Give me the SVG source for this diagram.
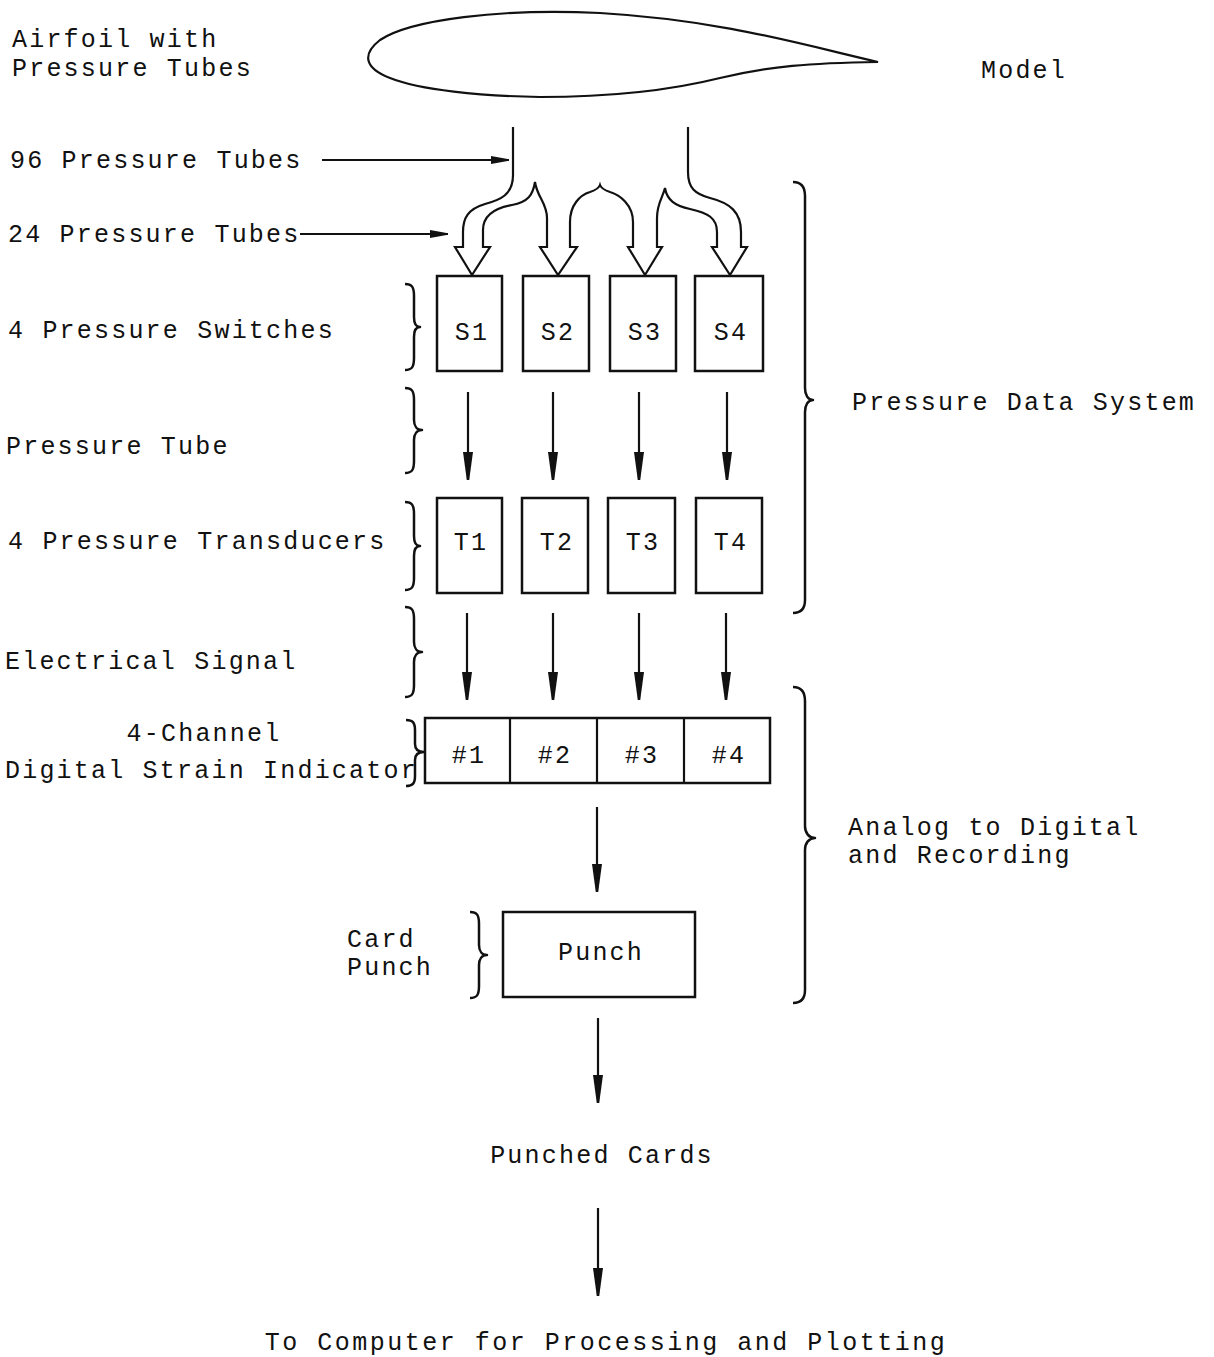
<svg xmlns="http://www.w3.org/2000/svg" width="1214" height="1357" viewBox="0 0 1214 1357">
<style>
  text { font-family: "Liberation Mono", "DejaVu Sans Mono", monospace; font-size: 25px; letter-spacing: 2.2px; fill: #111; }
  .c { text-anchor: middle; }
  .box { fill: #fff; stroke: #111; stroke-width: 2.5; }
  .ln { fill: none; stroke: #111; stroke-width: 2.2; }
  .br { fill: none; stroke: #111; stroke-width: 2.5; stroke-linejoin: round; }
</style>
<defs>
  <marker id="av" markerUnits="userSpaceOnUse" viewBox="0 0 28 10" refX="28" refY="5" markerWidth="28" markerHeight="10" orient="auto">
    <path d="M0,0 L28,3.8 L28,6.2 L0,10 Z" fill="#111"/>
  </marker>
  <marker id="ah" markerUnits="userSpaceOnUse" viewBox="0 0 18 8" refX="18" refY="4" markerWidth="18" markerHeight="8" orient="auto">
    <path d="M0,0 L18,3.3 L18,4.7 L0,8 Z" fill="#111"/>
  </marker>
</defs>
<rect width="1214" height="1357" fill="#fff"/>

<g id="model">
  <path class="ln" d="M878,62 C800,44 720,20 600,13 C500,8 410,20 380,40 C362,54 364,68 390,78 C420,90 480,96 540,97 C620,97 680,88 720,78 C770,66 810,63 878,62 Z"/>
  <text x="12" y="47">Airfoil with</text>
  <text x="12" y="76">Pressure Tubes</text>
  <text x="981" y="78">Model</text>
</g>

<g id="tubes">
  <path class="ln" d="M513,127 L513,175 C513,195 500,200 485,204 C468,209 463,218 463,232 L463,247 L455,247 L472,275 L490,247 L483,247 L483,230 C483,215 495,208 512,205 C528,202 533,195 535,182 C537,197 547,203 547,218 L547,247 L540,247 L558,275 L577,247 L570,247 L570,222 C570,205 580,195 590,192 C596,190 599,188 600,185 C601,188 604,190 610,192 C620,195 633,205 633,222 L633,247 L628,247 L645,275 L662,247 L657,247 L657,218 C657,203 663,197 665,188 C667,200 675,206 690,209 C708,213 717,218 717,232 L717,247 L712,247 L730,275 L747,247 L741,247 L741,232 C741,212 730,203 710,198 C695,194 688,188 688,172 L688,127"/>
</g>

<g id="labels-left">
  <text x="10" y="168">96 Pressure Tubes</text>
  <text x="8" y="242">24 Pressure Tubes</text>
  <text x="8" y="338">4 Pressure Switches</text>
  <text x="6" y="454">Pressure Tube</text>
  <text x="8" y="549">4 Pressure Transducers</text>
  <text x="5" y="669">Electrical Signal</text>
  <text class="c" x="204" y="741">4-Channel</text>
  <text x="5" y="778">Digital Strain Indicator</text>
  <text x="347" y="947">Card</text>
  <text x="347" y="975">Punch</text>
</g>

<g id="switches">
  <rect class="box" x="437" y="276" width="65" height="95"/>
  <rect class="box" x="523" y="276" width="66" height="95"/>
  <rect class="box" x="610" y="276" width="66" height="95"/>
  <rect class="box" x="695" y="276" width="68" height="95"/>
  <text class="c" x="472" y="340">S1</text>
  <text class="c" x="558" y="340">S2</text>
  <text class="c" x="645" y="340">S3</text>
  <text class="c" x="731" y="340">S4</text>
</g>

<g id="transducers">
  <rect class="box" x="437" y="498" width="65" height="95"/>
  <rect class="box" x="522" y="498" width="66" height="95"/>
  <rect class="box" x="608" y="498" width="67" height="95"/>
  <rect class="box" x="696" y="498" width="66" height="95"/>
  <text class="c" x="471" y="550">T1</text>
  <text class="c" x="557" y="550">T2</text>
  <text class="c" x="643" y="550">T3</text>
  <text class="c" x="731" y="550">T4</text>
</g>

<g id="indicator">
  <rect class="box" x="425" y="718" width="345" height="65"/>
  <line class="ln" x1="510" y1="718" x2="510" y2="783"/>
  <line class="ln" x1="597" y1="718" x2="597" y2="783"/>
  <line class="ln" x1="684" y1="718" x2="684" y2="783"/>
  <text class="c" x="469" y="763">#1</text>
  <text class="c" x="555" y="763">#2</text>
  <text class="c" x="642" y="763">#3</text>
  <text class="c" x="729" y="763">#4</text>
</g>

<g id="punch">
  <rect class="box" x="503" y="912" width="192" height="85"/>
  <text class="c" x="601" y="960">Punch</text>
</g>

<g id="outputs">
  <text class="c" x="602" y="1163">Punched Cards</text>
  <text class="c" x="606" y="1350" style="letter-spacing:2.5px">To Computer for Processing and Plotting</text>
</g>

<g id="systems">
  <text x="852" y="410">Pressure Data System</text>
  <text x="848" y="835">Analog to Digital</text>
  <text x="848" y="863">and Recording</text>
</g>

<g id="braces">
  <path class="br" d="M405,284 C412,284 414,287 414,296 L414,317 C414,323 416,327 420,327 C416,327 414,331 414,337 L414,358 C414,367 412,370 405,370"/>
  <path class="br" d="M405,388 C412,388 414,391 414,400 L414,420 C414,426 417,430 422,430 C417,430 414,434 414,440 L414,461 C414,470 412,473 405,473"/>
  <path class="br" d="M405,502 C412,502 414,505 414,514 L414,536 C414,542 416,546 420,546 C416,546 414,550 414,556 L414,578 C414,587 412,590 405,590"/>
  <path class="br" d="M405,607 C412,607 414,610 414,619 L414,642 C414,648 417,652 422,652 C417,652 414,656 414,662 L414,685 C414,694 412,697 405,697"/>
  <path class="br" d="M406,720 C413,720 415,723 415,730 L415,744 C415,749 418,752 424,752 C418,752 415,755 415,760 L415,776 C415,783 413,786 406,786"/>
  <path class="br" d="M470,912 C477,912 479,915 479,924 L479,945 C479,951 482,955 487,955 C482,955 479,959 479,965 L479,986 C479,995 477,998 470,998"/>
  <path class="br" d="M793,182 C801,182 805,186 805,196 L805,388 C805,395 808,400 813,400 C808,400 805,405 805,412 L805,600 C805,609 801,613 793,613"/>
  <path class="br" d="M793,687 C801,687 805,691 805,701 L805,826 C805,833 809,838 815,838 C809,838 805,843 805,850 L805,990 C805,999 801,1003 793,1003"/>
</g>

<g id="connectors">
  <line class="ln" x1="322" y1="160" x2="509" y2="160" marker-end="url(#ah)"/>
  <line class="ln" x1="300" y1="234" x2="448" y2="234" marker-end="url(#ah)"/>
  <line class="ln" x1="468" y1="392" x2="468" y2="480" marker-end="url(#av)"/>
  <line class="ln" x1="553" y1="392" x2="553" y2="480" marker-end="url(#av)"/>
  <line class="ln" x1="639" y1="392" x2="639" y2="480" marker-end="url(#av)"/>
  <line class="ln" x1="727" y1="392" x2="727" y2="480" marker-end="url(#av)"/>
  <line class="ln" x1="467" y1="613" x2="467" y2="700" marker-end="url(#av)"/>
  <line class="ln" x1="553" y1="613" x2="553" y2="700" marker-end="url(#av)"/>
  <line class="ln" x1="639" y1="613" x2="639" y2="700" marker-end="url(#av)"/>
  <line class="ln" x1="726" y1="613" x2="726" y2="700" marker-end="url(#av)"/>
  <line class="ln" x1="597" y1="807" x2="597" y2="892" marker-end="url(#av)"/>
  <line class="ln" x1="598" y1="1018" x2="598" y2="1103" marker-end="url(#av)"/>
  <line class="ln" x1="598" y1="1208" x2="598" y2="1296" marker-end="url(#av)"/>
</g>
</svg>
